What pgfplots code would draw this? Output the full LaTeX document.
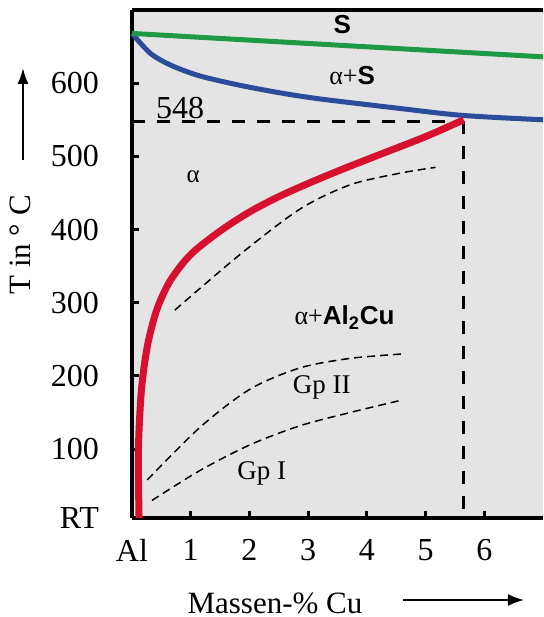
\documentclass[border=0pt]{standalone}
\usepackage{fontspec}
\setmainfont{Liberation Serif}
\newfontfamily\sans{Liberation Sans}
\usepackage{pgfplots}
\pgfplotsset{compat=1.18}
\usetikzlibrary{arrows.meta}
\definecolor{liqgreen}{HTML}{1E9A46}
\definecolor{solblue}{HTML}{2B4C9B}
\definecolor{solvred}{HTML}{D6102E}
\definecolor{bggray}{HTML}{E4E4E4}

\begin{document}
\begin{tikzpicture}
\useasboundingbox (-66pt,-49.5pt) rectangle (205.5pt,259pt);
\begin{axis}[
 at={(0,0)},anchor=south west,
 scale only axis,width=205.5pt,height=254pt,
 xmin=0,xmax=7,ymin=6,ymax=700,
 axis x line*=box,axis y line*=left,
 axis line style={line width=2pt,black},
 axis background/.style={fill=bggray},
 xtick={0,1,2,3,4,5,6},xticklabels={Al,1,2,3,4,5,6},
 ytick={6,100,200,300,400,500,600},yticklabels={RT,100,200,300,400,500,600},
 xtick pos=bottom,ytick pos=left,
 tick align=inside,major tick length=3.5pt,
 tick style={line width=1.5pt,black},
 /pgf/number format/assume math mode=true,
 ticklabel style={font=\fontsize{16}{19}\selectfont},
 xticklabel style={yshift=-7pt},
 yticklabel style={xshift=-13pt},
 clip=false]
% GP zone boundaries
\addplot[black,line width=0.75pt,dash pattern=on 4pt off 2.5pt,smooth] coordinates {
 (0.73,290) (1.84,366) (2.86,428) (3.71,461) (4.56,477) (5.17,485)};
\addplot[black,line width=0.75pt,dash pattern=on 4pt off 2.5pt,smooth] coordinates {
 (0.26,58) (1.16,130) (2.01,182) (2.86,211) (3.71,224) (4.59,230)};
\addplot[black,line width=0.75pt,dash pattern=on 4pt off 2.5pt,smooth] coordinates {
 (0.34,30) (1.16,71) (2.01,106) (2.86,132) (3.71,150) (4.59,167)};
% eutectic
\addplot[black,line width=1.5pt,dash pattern=on 6.5pt off 6pt] coordinates {(0,548) (5.65,548)};
\addplot[black,line width=1.5pt,dash pattern=on 6.5pt off 6pt] coordinates {(5.65,548) (5.65,6)};
% solidus
\addplot[solblue,line width=2.5pt,smooth] coordinates {
 (0,668) (0.31,641) (0.65,625) (1.11,611) (1.67,600) (2.23,591) (2.81,583)
 (3.35,577) (4.51,566) (5.63,556) (7,550)};
% liquidus
\addplot[liqgreen,line width=2.5pt] coordinates {(0,668) (7,636)};
% solvus
\addplot[solvred,line width=3.5pt,smooth,tension=0.5] coordinates {
 (0.12,6) (0.11,100) (0.16,180) (0.26,240) (0.42,290) (0.65,330) (1.0,366)
 (1.5,398) (2.0,424) (2.5,445) (3.0,463) (3.6,483) (4.3,505) (5.0,527) (5.65,550)};
\node[font=\sans\bfseries\fontsize{13}{15}\selectfont] at (axis cs:3.58,680) {S};
\node[font=\fontsize{13}{15}\selectfont] at (axis cs:3.75,611) {α+{\sans\bfseries S}};
\node[font=\fontsize{16}{19}\selectfont] at (axis cs:0.82,566) {548};
\node[font=\fontsize{12.5}{14}\selectfont] at (axis cs:1.04,472) {α};
\node[font=\fontsize{13}{15}\selectfont] at (axis cs:3.62,280) {α+{\sans\bfseries Al\textsubscript{2}Cu}};
\node[font=\fontsize{13.5}{16}\selectfont] at (axis cs:3.23,185) {Gp II};
\node[font=\fontsize{13.5}{16}\selectfont] at (axis cs:2.21,67) {Gp I};
\end{axis}
\node[rotate=90,font=\fontsize{15.5}{18}\selectfont] at (-56pt,136.5pt) {T in ° C};
\draw[-{Latex[length=8pt,width=5.5pt]},line width=1pt] (-54.5pt,179pt) -- (-54.5pt,225pt);
\node[font=\fontsize{15.5}{18}\selectfont] at (71.5pt,-42.5pt) {Massen-\% Cu};
\draw[-{Latex[length=8pt,width=6pt]},line width=1pt] (135.5pt,-41pt) -- (196pt,-41pt);
\end{tikzpicture}
\end{document}
